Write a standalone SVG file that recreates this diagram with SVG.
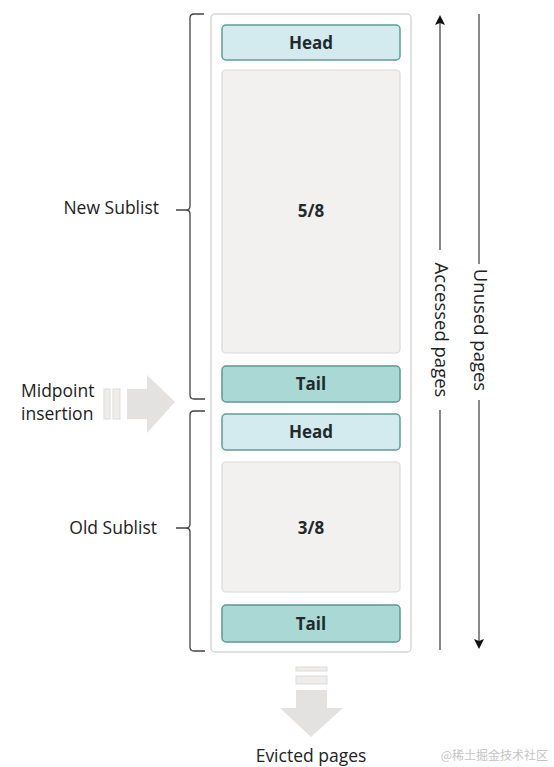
<svg xmlns="http://www.w3.org/2000/svg" width="554" height="767" viewBox="0 0 554 767">
<defs>
<style>
.lbl{font-family:"Open Sans","Liberation Sans",sans-serif;font-size:17.5px;fill:#222}
.rot{font-family:"Open Sans","Liberation Sans",sans-serif;font-size:18.5px;fill:#222;text-anchor:middle}
.bx{font-family:"Open Sans","Liberation Sans",sans-serif;font-size:17px;font-weight:bold;fill:#1f2a2c;text-anchor:middle}
.head{fill:#d3eaee;stroke:#5f9d98;stroke-width:1.5}
.tail{fill:#a9d8d5;stroke:#5c9893;stroke-width:1.5}
.body{fill:#f3f1f0;stroke:#dcdad8;stroke-width:1.2}
.br{fill:none;stroke:#444;stroke-width:1.3}
.ax{fill:none;stroke:#8a8a8a;stroke-width:2}
.big{fill:#e3e2e0}
.bar{fill:#eeedeb;stroke:#dcdbd9;stroke-width:1}
</style>
<marker id="ah" markerWidth="10" markerHeight="10" refX="5" refY="5" orient="auto" markerUnits="userSpaceOnUse">
<path d="M0,0 L10,5 L0,10 L2,5 Z" fill="#111"/>
</marker>
</defs>
<rect width="554" height="767" fill="#fff"/>
<g id="container">
<rect x="211" y="14" width="200" height="638" rx="4" fill="#fff" stroke="#d6d6d6" stroke-width="1.5"/>
</g>
<g id="head1"><rect class="head" x="222" y="25" width="178" height="35" rx="4"/><text class="bx" x="311" y="48.5">Head</text></g>
<g id="new58"><rect class="body" x="222" y="70" width="178" height="283" rx="4"/><text class="bx" x="311" y="216.5">5/8</text></g>
<g id="tail1"><rect class="tail" x="222" y="366" width="178" height="36" rx="4"/><text class="bx" x="311" y="390">Tail</text></g>
<g id="head2"><rect class="head" x="222" y="414" width="178" height="36" rx="4"/><text class="bx" x="311" y="438">Head</text></g>
<g id="old38"><rect class="body" x="222" y="462" width="178" height="130" rx="4"/><text class="bx" x="311" y="534">3/8</text></g>
<g id="tail2"><rect class="tail" x="222" y="605" width="178" height="37" rx="4"/><text class="bx" x="311" y="629.5">Tail</text></g>
<g id="newSublist">
<path class="br" d="M204,14 H194 Q190,14 190,18 V206 Q190,210 186,210 H176 M186,210 Q190,210 190,214 V395 Q190,399 194,399 H205"/>
<text class="lbl" x="159" y="214" text-anchor="end">New Sublist</text>
</g>
<g id="oldSublist">
<path class="br" d="M205,411 H194 Q190,411 190,415 V524 Q190,528 186,528 H176 M186,528 Q190,528 190,532 V647 Q190,651 194,651 H205"/>
<text class="lbl" x="157" y="534" text-anchor="end">Old Sublist</text>
</g>
<g id="midpoint">
<rect class="bar" x="104" y="389" width="6" height="30"/>
<rect class="bar" x="113" y="389" width="7" height="30"/>
<path class="big" d="M127,389 H147 V375 L175,402 L147,433 V419 H127 Z"/>
<text class="lbl" x="21" y="397">Midpoint</text>
<text class="lbl" x="21" y="419.5">insertion</text>
</g>
<g id="evicted">
<rect class="bar" x="296" y="667" width="31" height="4"/>
<rect class="bar" x="296" y="676" width="31" height="8"/>
<path class="big" d="M296,690 H327 V708 H343 L311,737 L280,708 H296 Z"/>
<text class="lbl" x="311" y="762" text-anchor="middle">Evicted pages</text>
</g>
<g id="connectors">
<line class="ax" x1="440" y1="250" x2="440" y2="20" marker-end="url(#ah)"/>
<line class="ax" x1="440" y1="410" x2="440" y2="650"/>
<line class="ax" x1="479" y1="14" x2="479" y2="264"/>
<line class="ax" x1="479" y1="400" x2="479" y2="644" marker-end="url(#ah)"/>
</g>
<g id="axisLabels">
<text class="rot" transform="translate(435,330) rotate(90)">Accessed pages</text>
<text class="rot" transform="translate(474,330) rotate(90)">Unused pages</text>
</g>
<text x="548" y="760" text-anchor="end" font-family="'Noto Sans CJK SC',sans-serif" font-size="12" fill="#c4c4c4">@稀土掘金技术社区</text>
</svg>
